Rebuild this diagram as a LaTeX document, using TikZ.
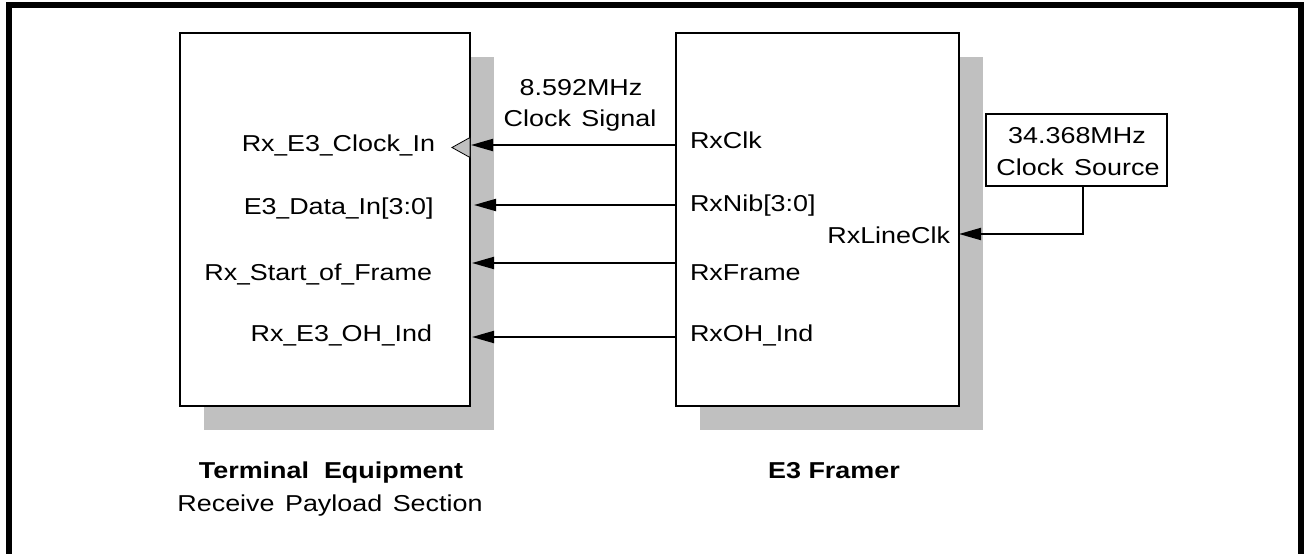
\documentclass[tikz,border=0pt]{standalone}
\usepackage{fontspec}
\setmainfont[FakeStretch=1.17]{Liberation Sans}
\usetikzlibrary{arrows.meta,shadows}
\definecolor{shadowgray}{RGB}{192,192,192}
\newcommand{\us}{\scalebox{0.84}[1]{\_}}
\newcommand{\wsp}{\ \hspace{3pt}}
\begin{document}
\begin{tikzpicture}[x=1pt,y=-1pt,
  every node/.style={inner sep=0pt, outer sep=0pt, font=\fontsize{23}{32}\selectfont},
  blockbox/.style={draw=black, line width=1.3pt, fill=white, rectangle,
    drop shadow={shadow xshift=24pt, shadow yshift=-24pt, fill=shadowgray, opacity=1}},
  srcbox/.style={draw=black, line width=1.3pt, fill=white, rectangle},
  sig/.style={line width=2pt, -{Triangle[length=22pt,width=12pt]}},
  lbl/.style={},
  boldlbl/.style={font=\fontsize{23}{32}\selectfont\bfseries}
]
\useasboundingbox (0,0) rectangle (1304,554);
\draw[line width=6pt] (9,5) rectangle (1301,557);

% blocks
\node[blockbox, minimum width=290pt, minimum height=373pt] (te) at (325,219.5) {};
\node[blockbox, minimum width=283pt, minimum height=373pt] (fr) at (817.5,219.5) {};
\node[srcbox, minimum width=181pt, minimum height=72pt] (cs) at (1076.5,150) {};
\node[anchor=base] (cs1) at (1077,143) {34.368MHz};
\node[anchor=base] (cs2) at (1078,175) {Clock\wsp Source};

% clock input triangle
\draw[fill=shadowgray, line width=0.8pt] (470,137.5) -- (452,147.5) -- (470,157.5) -- cycle;
\coordinate (clkin) at (471,145);

% left labels
\node[lbl, anchor=base east] (l1) at (435,151.7) {Rx\us E3\us Clock\us In};
\node[lbl, anchor=base east] (l2) at (433.5,214.3) {E3\us Data\us In[3:0]};
\node[lbl, anchor=base east] (l3) at (432,280) {Rx\us Start\us of\us Frame};
\node[lbl, anchor=base east] (l4) at (432,341.7) {Rx\us E3\us OH\us Ind};

% right labels
\node[lbl, anchor=base west] (r1) at (690,148.3) {RxClk};
\node[lbl, anchor=base west] (r2) at (690,211.7) {RxNib[3:0]};
\node[lbl, anchor=base west] (r3) at (690,280) {RxFrame};
\node[lbl, anchor=base west] (r4) at (690,341) {RxOH\us Ind};
\node[lbl, anchor=base east] (r5) at (950,243.3) {RxLineClk};

% clock signal label
\node[anchor=base] (f1) at (581,95) {8.592MHz};
\node[anchor=base] (f2) at (580,126.7) {Clock\wsp Signal};

% connectors
\coordinate (a1) at (676,145);
\coordinate (a2s) at (676,205);  \coordinate (a2e) at (474,205);
\coordinate (a3s) at (676,263);  \coordinate (a3e) at (472,263);
\coordinate (a4s) at (676,337);  \coordinate (a4e) at (472,337);
\coordinate (lc) at (959,234);
\draw[sig] (a1) -- (clkin);
\draw[sig] (a2s) -- (a2e);
\draw[sig] (a3s) -- (a3e);
\draw[sig] (a4s) -- (a4e);
\draw[sig] ([xshift=6pt]cs.south) |- (lc);

% captions
\node[boldlbl, anchor=base] (t1) at (331,478.3) {Terminal\ \ Equipment};
\node[anchor=base] (t2) at (330,511) {Receive\wsp Payload\wsp Section};
\node[boldlbl, anchor=base] (t3) at (834,478) {E3 Framer};
\end{tikzpicture}
\end{document}
